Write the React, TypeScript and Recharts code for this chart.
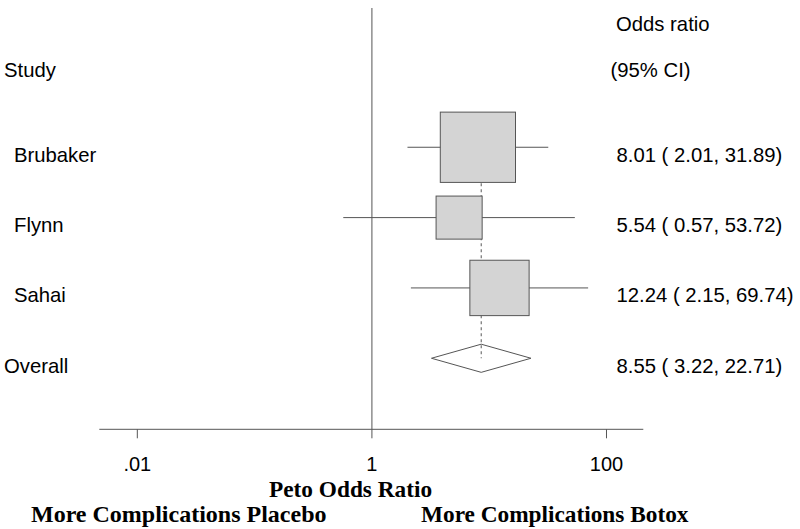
import React from 'react';
import { ComposedChart, Scatter, ErrorBar, XAxis, YAxis, ReferenceLine } from 'recharts';

const studies = ['Brubaker', 'Flynn', 'Sahai'];
const oddsRatios = [8.01, 5.54, 12.24];
const ciLow = [2.01, 0.57, 2.15];
const ciHigh = [31.89, 53.72, 69.74];
const weights = [50.1, 18.8, 31.1];

const overallLabel = 'Overall';
const overallEstimate = [8.55, 3.22, 22.71]; // OR, low, high

const xTicks = [0.01, 1, 100];
const xTickLabels = ['.01', '1', '100'];

const LINE = '#555';
const SANS = '"Liberation Sans", Arial, sans-serif';
const SERIF = '"Liberation Serif", "Times New Roman", serif';

const fmt = (or: number, lo: number, hi: number) => `${or.toFixed(2)} ( ${lo.toFixed(2)}, ${hi.toFixed(2)})`;

const overallRow = studies.length + 1;

const studyData = studies.map((name, i) => ({
  name,
  x: oddsRatios[i],
  y: i + 1,
  weight: weights[i],
  err: [oddsRatios[i] - ciLow[i], ciHigh[i] - oddsRatios[i]],
}));

// diamond outline for the pooled estimate
const DIAMOND_H = 0.2;
const diamondData = [
  { x: overallEstimate[1], y: overallRow },
  { x: overallEstimate[0], y: overallRow - DIAMOND_H },
  { x: overallEstimate[2], y: overallRow },
  { x: overallEstimate[0], y: overallRow + DIAMOND_H },
  { x: overallEstimate[1], y: overallRow },
];

// text rows: y position on the row axis, left column, right column
const HEADER_TOP = -0.86;
const HEADER_MID = -0.21;
const rowTexts = [
  { y: HEADER_TOP, left: '', right: 'Odds ratio', indent: false, rightX: 616 },
  { y: HEADER_MID, left: 'Study', right: '(95% CI)', indent: false, rightX: 610.5 },
  ...studies.map((name, i) => ({
    y: i + 1,
    left: name,
    right: fmt(oddsRatios[i], ciLow[i], ciHigh[i]),
    indent: true,
    rightX: 616.5,
  })),
  {
    y: overallRow,
    left: overallLabel,
    right: fmt(overallEstimate[0], overallEstimate[1], overallEstimate[2]),
    indent: false,
    rightX: 616.5,
  },
];

const RowTick = (props: any) => {
  const { y, payload } = props;
  const row = rowTexts.find((r) => Math.abs(r.y - payload.value) < 1e-6);
  if (!row) return null;
  const base = y + 14.4;
  return (
    <g>
      {row.left && (
        <text x={row.indent ? 14 : 4} y={base} fontFamily={SANS} fontSize={20.3} fill="#000">
          {row.left}
        </text>
      )}
      {row.right && (
        <text x={row.rightX} y={base} fontFamily={SANS} fontSize={20.3} fill="#000">
          {row.right}
        </text>
      )}
    </g>
  );
};

const BOX_K = 9.93;
const BoxShape = (props: any) => {
  const { cx, cy, payload } = props;
  const h = BOX_K * Math.sqrt(payload.weight);
  const w = h * 1.07;
  return <rect x={cx - w / 2} y={cy - h / 2} width={w} height={h} fill="#d4d4d4" stroke={LINE} strokeWidth={1} />;
};

const Empty = () => <g />;

const BottomLabels = () => (
  <g>
    <text x={269} y={496.7} fontFamily={SERIF} fontWeight="bold" fontSize={23.3} fill="#000">
      Peto Odds Ratio
    </text>
    <text x={31} y={521.7} fontFamily={SERIF} fontWeight="bold" fontSize={24} fill="#000">
      More Complications Placebo
    </text>
    <text x={421} y={521.7} fontFamily={SERIF} fontWeight="bold" fontSize={23.3} fill="#000">
      More Complications Botox
    </text>
  </g>
);

export default function App() {
  return (
    <div style={{ position: 'absolute', left: 0, top: 0, width: 800, height: 529, background: '#fff' }}>
      <ComposedChart width={800} height={529} margin={{ top: 8, right: 156.7, left: 0, bottom: 49.7 }}>
        <XAxis
          type="number"
          dataKey="x"
          scale="log"
          domain={[0.00474, 206]}
          allowDataOverflow
          ticks={xTicks}
          interval={0}
          tickFormatter={(v: number) => xTickLabels[xTicks.indexOf(v)] ?? String(v)}
          tickSize={9}
          tickMargin={18}
          height={50}
          stroke={LINE}
          tick={{ fill: '#000', fontFamily: SANS, fontSize: 20 }}
          label={<BottomLabels />}
        />
        <YAxis
          type="number"
          dataKey="y"
          reversed
          domain={[-0.98, 5.01]}
          allowDataOverflow
          ticks={rowTexts.map((r) => r.y)}
          interval={0}
          width={99.3}
          axisLine={false}
          tickLine={false}
          tick={<RowTick />}
        />
        <ReferenceLine x={1} stroke={LINE} strokeWidth={1} />
        <Scatter data={studyData} shape={<Empty />} isAnimationActive={false}>
          <ErrorBar dataKey="err" direction="x" width={0} stroke={LINE} strokeWidth={1} isAnimationActive={false} />
        </Scatter>
        <Scatter data={studyData} shape={<BoxShape />} isAnimationActive={false} />
        <Scatter
          data={diamondData}
          shape={<Empty />}
          line={{ stroke: LINE, strokeWidth: 1 }}
          lineType="joint"
          isAnimationActive={false}
        />
        <ReferenceLine
          segment={[
            { x: overallEstimate[0], y: 1 },
            { x: overallEstimate[0], y: overallRow },
          ]}
          stroke={LINE}
          strokeWidth={1}
          strokeDasharray="3 3"
        />
      </ComposedChart>
    </div>
  );
}
